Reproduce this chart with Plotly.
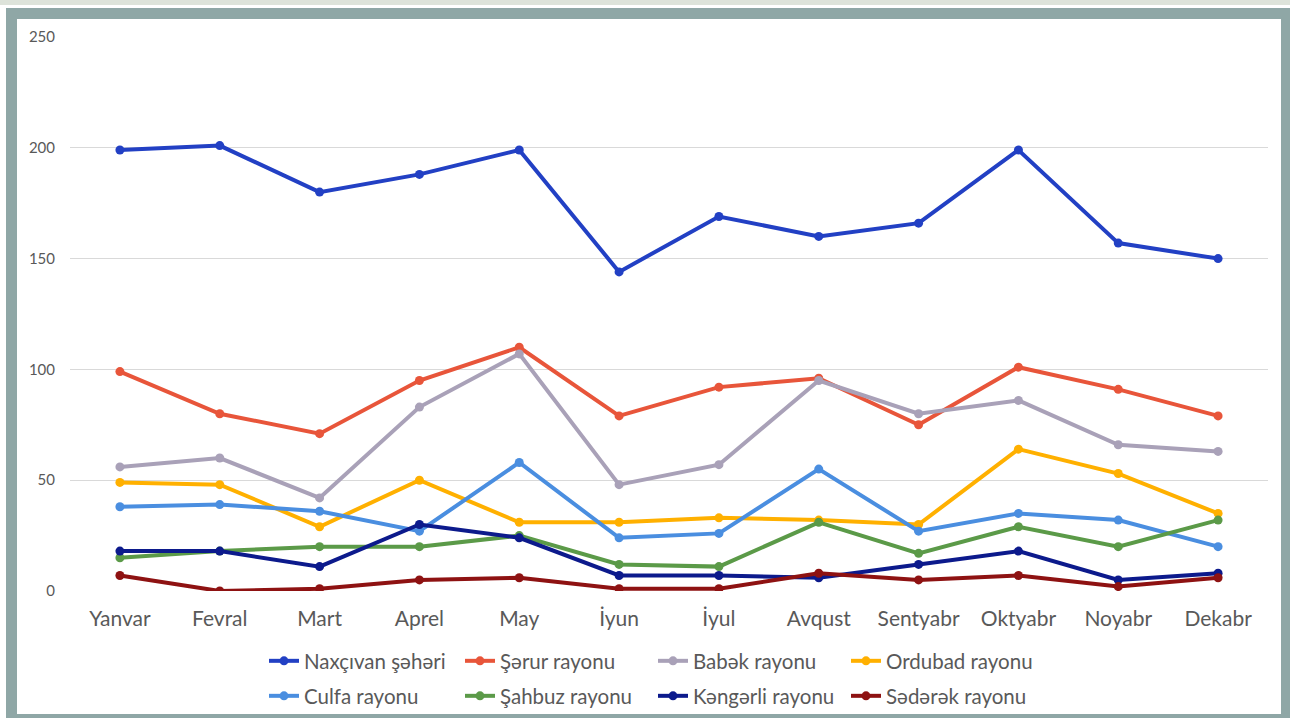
import plotly.graph_objects as go

months = ["Yanvar", "Fevral", "Mart", "Aprel", "May", "İyun", "İyul", "Avqust",
          "Sentyabr", "Oktyabr", "Noyabr", "Dekabr"]

naxcivan = [199, 201, 180, 188, 199, 144, 169, 160, 166, 199, 157, 150]
serur = [99, 80, 71, 95, 110, 79, 92, 96, 75, 101, 91, 79]
babek = [56, 60, 42, 83, 107, 48, 57, 95, 80, 86, 66, 63]
ordubad = [49, 48, 29, 50, 31, 31, 33, 32, 30, 64, 53, 35]
culfa = [38, 39, 36, 27, 58, 24, 26, 55, 27, 35, 32, 20]
sahbuz = [15, 18, 20, 20, 25, 12, 11, 31, 17, 29, 20, 32]
kengerli = [18, 18, 11, 30, 24, 7, 7, 6, 12, 18, 5, 8]
sederek = [7, 0, 1, 5, 6, 1, 1, 8, 5, 7, 2, 6]

series_names = ["Naxçıvan şəhəri", "Şərur rayonu", "Babək rayonu", "Ordubad rayonu",
                "Culfa rayonu", "Şahbuz rayonu", "Kəngərli rayonu", "Sədərək rayonu"]
series_values = [naxcivan, serur, babek, ordubad, culfa, sahbuz, kengerli, sederek]
colors = ["#2240c4", "#e8553a", "#a9a1b8", "#ffb000",
          "#4a8ee0", "#5b9a48", "#0c1a8c", "#8e1212"]

y_ticks = [0, 50, 100, 150, 200, 250]

FONT = "Lato"
TXT = "#595959"

# figure geometry (pixels)
W, H = 1290, 718
L, R, T, B = 70, 1268, 37, 591

def fx(px):
    return (px - L) / (R - L)

def fy(py):
    return (B - py) / (B - T)

# legend grid: column left edges and row centres (pixels)
legend_cols = [268, 464, 657, 850]
legend_rows = [661, 696]

fig = go.Figure()
legends = {}
for i, (name, vals, col) in enumerate(zip(series_names, series_values, colors)):
    key = "legend" if i == 0 else f"legend{i + 1}"
    fig.add_trace(go.Scatter(
        x=months, y=vals, name=name, mode="lines+markers",
        line=dict(color=col, width=4),
        marker=dict(color=col, size=9),
        legend=key, showlegend=True,
    ))
    legends[key] = dict(
        x=fx(legend_cols[i % 4] - 4), y=fy(legend_rows[i // 4]),
        xanchor="left", yanchor="middle",
        font=dict(family=FONT, size=20.5, color=TXT),
        bgcolor="rgba(0,0,0,0)", itemclick=False, itemdoubleclick=False,
    )

shapes = [
    dict(type="rect", xref="paper", yref="paper", x0=fx(0), x1=fx(W), y0=fy(5), y1=fy(0),
         fillcolor="#dde3da", line=dict(width=0), layer="below"),
    dict(type="rect", xref="paper", yref="paper", x0=fx(6), x1=fx(W), y0=fy(H), y1=fy(8),
         fillcolor="#8fa7a6", line=dict(width=0), layer="below"),
    dict(type="rect", xref="paper", yref="paper", x0=fx(17), x1=fx(1281), y0=fy(714), y1=fy(19),
         fillcolor="#ffffff", line=dict(width=0), layer="below"),
]

fig.update_layout(
    width=W, height=H, autosize=False, showlegend=True,
    margin=dict(l=L, r=W - R, t=T, b=H - B, autoexpand=False),
    paper_bgcolor="#ffffff",
    plot_bgcolor="rgba(0,0,0,0)",
    font=dict(family=FONT, color=TXT),
    shapes=shapes,
    xaxis=dict(
        type="category", range=[-0.5, 11.5], showgrid=False, zeroline=False,
        showline=False, ticks="", tickfont=dict(family=FONT, size=21, color=TXT),
        ticklabelstandoff=13,
    ),
    yaxis=dict(
        range=[0, 250], tickvals=y_ticks, showgrid=True, gridcolor="#d9d9d9",
        gridwidth=1, zeroline=False, showline=False, ticks="",
        tickfont=dict(family=FONT, size=15, color=TXT), ticklabelstandoff=14,
    ),
    **legends,
)

fig.write_html(
    "out.html",
    config={"displayModeBar": False, "responsive": False},
    post_script=("document.body.style.margin='0px';"
                 "document.body.style.overflow='hidden';"
                 "document.documentElement.style.overflow='hidden';"),
)
